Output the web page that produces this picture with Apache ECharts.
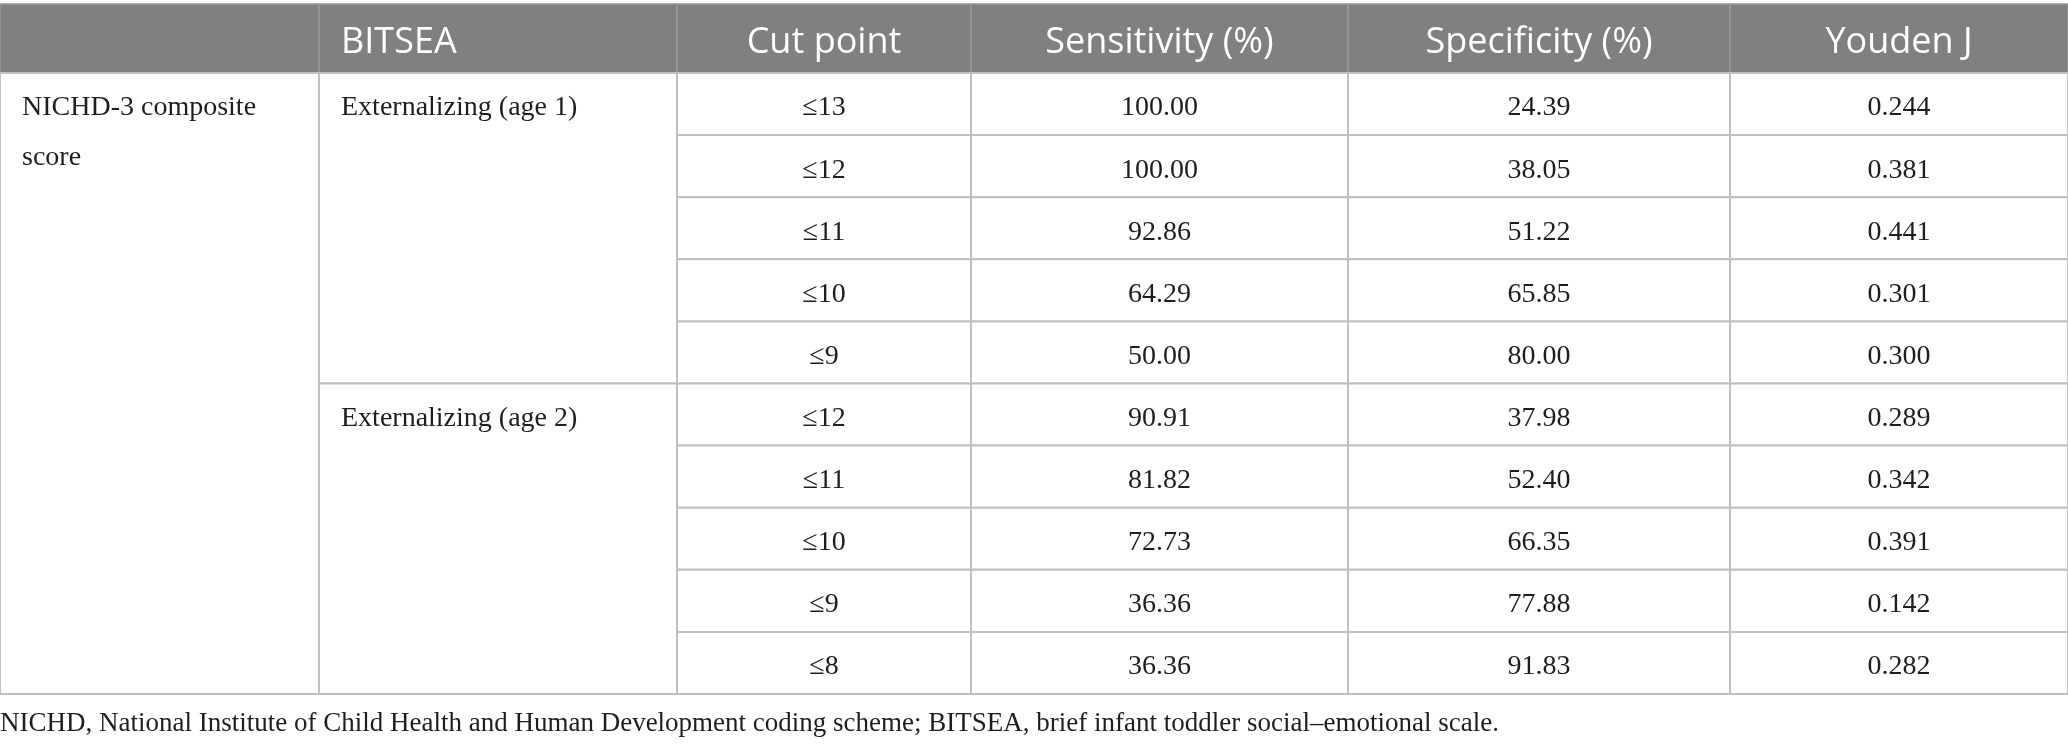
<!DOCTYPE html>
<html>
<head>
    <meta charset="utf-8">
    <title>NICHD-3 cut points</title>
    <script src="https://cdn.jsdelivr.net/npm/echarts@6/dist/echarts.min.js"></script>
    <style>
        html, body { margin: 0; padding: 0; background: #fff; }
        #chart1 { width: 2068px; height: 745px; }
    </style>
</head>
<body>
<div id="chart1"></div>
<script type="text/javascript">

    // 表格内容
    var columns = ['', 'BITSEA', 'Cut point', 'Sensitivity (%)', 'Specificity (%)', 'Youden J'];
    var measure = 'NICHD-3 composite\nscore';
    var groups = ['Externalizing (age 1)', 'Externalizing (age 2)'];
    var groupSizes = [5, 5];
    var cutPoints = ['≤13', '≤12', '≤11', '≤10', '≤9', '≤12', '≤11', '≤10', '≤9', '≤8'];
    var sensitivity = [100.00, 100.00, 92.86, 64.29, 50.00, 90.91, 81.82, 72.73, 36.36, 36.36];
    var specificity = [24.39, 38.05, 51.22, 65.85, 80.00, 37.98, 52.40, 66.35, 77.88, 91.83];
    var youden = [0.244, 0.381, 0.441, 0.301, 0.300, 0.289, 0.342, 0.391, 0.142, 0.282];
    var note = 'NICHD, National Institute of Child Health and Human Development coding scheme; BITSEA, brief infant toddler social\u2013emotional scale.';

    // 版式
    var colEdges = [0, 319, 677, 971, 1348, 1730, 2068];
    var pad = 22;
    var serif = '"Liberation Serif", "Times New Roman", serif';
    var sans = '"Open Sans", "Noto Sans", sans-serif';

    // 单元格: [col, rowStart, rowEnd, text]
    var headCells = columns.map(function (t, c) { return [c, 0, 1, t]; });
    var bodyCells = [[0, 0, cutPoints.length, measure]];
    var r = 0;
    groups.forEach(function (g, i) {
        bodyCells.push([1, r, r + groupSizes[i], g]);
        r += groupSizes[i];
    });
    cutPoints.forEach(function (cp, i) {
        bodyCells.push([2, i, i + 1, cp]);
        bodyCells.push([3, i, i + 1, sensitivity[i].toFixed(2)]);
        bodyCells.push([4, i, i + 1, specificity[i].toFixed(2)]);
        bodyCells.push([5, i, i + 1, youden[i].toFixed(3)]);
    });

    function cellRenderer(cells, isHead) {
        return function (params, api) {
            var c = api.value(0), r0 = api.value(1), r1 = api.value(2);
            var text = cells[params.dataIndex][3];
            var p0 = api.coord([colEdges[c], r0]);
            var p1 = api.coord([colEdges[c + 1], r1]);
            var rowH = api.size([0, 1])[1];
            var left = c < 2;
            var tx = left ? p0[0] + pad : (p0[0] + p1[0]) / 2;
            var lh = isHead ? rowH : 50;
            var ty = isHead ? p0[1] + rowH / 2 + 4 : p0[1] + rowH / 2 - lh / 2 + 4;
            return {
                type: 'group',
                children: [{
                    type: 'rect',
                    shape: { x: p0[0], y: p0[1], width: p1[0] - p0[0], height: p1[1] - p0[1] },
                    style: isHead
                        ? { fill: '#808080', stroke: '#989898', lineWidth: 1.5 }
                        : { fill: '#ffffff', stroke: '#c0c0c0', lineWidth: 2 }
                }, {
                    type: 'text',
                    style: {
                        x: tx, y: ty,
                        text: text,
                        align: left ? 'left' : 'center',
                        verticalAlign: isHead ? 'middle' : 'top',
                        lineHeight: lh,
                        fill: isHead ? '#ffffff' : '#1e1e1e',
                        font: isHead ? ('36px ' + sans) : ('28px ' + serif)
                    }
                }]
            };
        };
    }

    var myChart1 = echarts.init(document.getElementById('chart1'));
    myChart1.setOption({
        animation: false,
        title: {
            text: note,
            left: 0,
            top: 710,
            padding: 0,
            textStyle: { fontFamily: serif, fontSize: 27, fontWeight: 'normal', color: '#1e1e1e' }
        },
        grid: [
            { left: 0, right: 0, top: 4, height: 69 },
            { left: 0, right: 0, top: 73, height: 621 }
        ],
        xAxis: [
            { gridIndex: 0, type: 'value', min: 0, max: 2068, show: false },
            { gridIndex: 1, type: 'value', min: 0, max: 2068, show: false }
        ],
        yAxis: [
            { gridIndex: 0, type: 'value', min: 0, max: 1, inverse: true, show: false },
            { gridIndex: 1, type: 'value', min: 0, max: cutPoints.length, inverse: true, show: false }
        ],
        series: [{
            type: 'custom',
            xAxisIndex: 0, yAxisIndex: 0,
            renderItem: cellRenderer(headCells, true),
            data: headCells.map(function (d) { return [d[0], d[1], d[2]]; }),
            silent: true
        }, {
            type: 'custom',
            xAxisIndex: 1, yAxisIndex: 1,
            renderItem: cellRenderer(bodyCells, false),
            data: bodyCells.map(function (d) { return [d[0], d[1], d[2]]; }),
            silent: true
        }]
    });
</script>
</body>
</html>
